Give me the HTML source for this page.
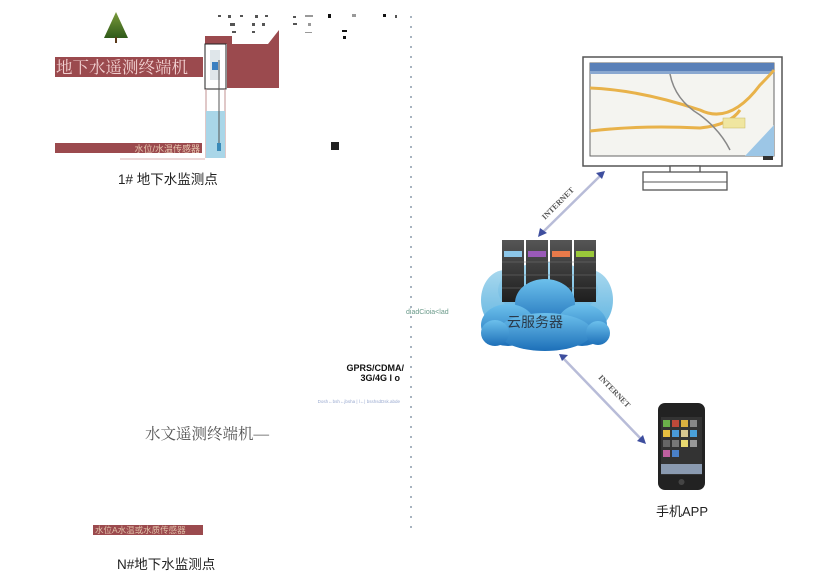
<!DOCTYPE html>
<html><head><meta charset="utf-8"><style>
html,body{margin:0;padding:0;background:#fff;width:829px;height:575px;overflow:hidden}
svg{display:block}
text{font-family:"Liberation Sans","Noto Sans CJK SC",sans-serif}
</style></head><body>
<svg width="829" height="575" viewBox="0 0 829 575" xmlns="http://www.w3.org/2000/svg">
<defs>
<linearGradient id="tree" x1="0" y1="0" x2="0" y2="1"><stop offset="0" stop-color="#7a9a3a"/><stop offset="1" stop-color="#2f5a1a"/></linearGradient>
<linearGradient id="cloudB" x1="0" y1="0" x2="0" y2="1"><stop offset="0" stop-color="#a8d8ee"/><stop offset="1" stop-color="#5fb3e0"/></linearGradient>
<linearGradient id="cloudF" x1="0" y1="0" x2="0" y2="1"><stop offset="0" stop-color="#6cc0ec"/><stop offset="1" stop-color="#1d6fb8"/></linearGradient>
<linearGradient id="rack" x1="0" y1="0" x2="0" y2="1"><stop offset="0" stop-color="#555"/><stop offset="1" stop-color="#1e1e1e"/></linearGradient>
</defs>

<polygon points="116,12 104,38 128,38" fill="url(#tree)"/>
<rect x="115" y="37" width="2" height="6" fill="#5a3a1a"/>

<polygon points="227,44 268,44 279,30 279,88 227,88" fill="#9b4a4e"/>
<rect x="205" y="36" width="27" height="8" fill="#9b4a4e"/>
<rect x="205" y="44" width="21" height="45" fill="#fff" stroke="#222" stroke-width="1"/>
<rect x="210" y="50" width="10" height="30" fill="#dfe6ea"/>
<rect x="212" y="62" width="6" height="8" fill="#3a7fc0"/>
<line x1="206" y1="89" x2="206" y2="158" stroke="#c09090" stroke-width="1"/>
<line x1="225" y1="89" x2="225" y2="158" stroke="#c09090" stroke-width="1"/>
<rect x="206" y="111" width="19" height="47" fill="#a9d6e8"/>
<line x1="219" y1="60" x2="219" y2="148" stroke="#555" stroke-width="1"/>
<rect x="217" y="143" width="4" height="8" fill="#3a8ab8"/>

<rect x="55" y="57" width="148" height="20" fill="#9b4a4e"/>
<text x="56" y="73" font-size="16.5" fill="#f1d0d0" style="font-family:'Liberation Serif','Noto Serif CJK SC',serif">地下水遥测终端机</text>
<rect x="55" y="143" width="147" height="10" fill="#9b4a4e"/>
<text x="200" y="152" font-size="9" fill="#e8c8b0" text-anchor="end">水位/水温传感器</text>
<line x1="120" y1="159" x2="205" y2="159" stroke="#d8b0b0" stroke-width="1"/>
<text x="118" y="184" font-size="13.5" fill="#222">1# 地下水监测点</text>

<g fill="#555">
<rect x="218" y="15" width="3" height="2"/><rect x="228" y="15" width="3" height="3"/><rect x="240" y="15" width="3" height="2"/><rect x="255" y="15" width="3" height="3"/><rect x="265" y="15" width="3" height="2"/><rect x="293" y="16" width="3" height="2"/><rect x="305" y="15" width="8" height="2" fill="#999"/><rect x="328" y="14" width="3" height="4" fill="#111"/><rect x="352" y="14" width="4" height="3" fill="#999"/><rect x="383" y="14" width="3" height="3" fill="#111"/><rect x="395" y="15" width="2" height="3"/>
<rect x="230" y="23" width="5" height="3"/><rect x="252" y="23" width="3" height="3"/><rect x="262" y="23" width="3" height="3"/><rect x="293" y="23" width="4" height="2"/><rect x="308" y="23" width="3" height="3" fill="#999"/><rect x="342" y="30" width="5" height="2" fill="#111"/><rect x="343" y="36" width="3" height="3" fill="#111"/>
<rect x="232" y="31" width="4" height="2"/><rect x="252" y="31" width="3" height="2"/><rect x="305" y="32" width="7" height="1" fill="#999"/>
</g>
<rect x="331" y="142" width="8" height="8" fill="#222"/>

<line x1="411" y1="16" x2="411" y2="528" stroke="#8a9aaa" stroke-width="1.5" stroke-dasharray="2,8"/>
<text x="406" y="314" font-size="7" fill="#6a9a8a">diadCioia&lt;lad</text>
<text x="404" y="371" font-size="9" font-weight="bold" fill="#111" text-anchor="end">GPRS/CDMA/</text>
<text x="400" y="381" font-size="9" font-weight="bold" fill="#111" text-anchor="end">3G/4G l o</text>
<text x="400" y="403" font-size="4.5" fill="#9aaad0" text-anchor="end">Dosh←bsh←jbsha | l←| bsshsdDsk.abde</text>

<text x="145" y="439" font-size="15.5" fill="#555" style="font-family:'Liberation Serif','Noto Serif CJK SC',serif">水文遥测终端机—</text>
<rect x="93" y="525" width="110" height="10" fill="#9b4a4e"/>
<text x="95" y="533" font-size="8.5" fill="#e0c0a8">水位A水温或水质传感器</text>
<text x="117" y="569" font-size="13.5" fill="#222">N#地下水监测点</text>

<rect x="583" y="57" width="199" height="109" fill="#fff" stroke="#555" stroke-width="1.5"/>
<rect x="590" y="63" width="184" height="93" fill="#f4f4f0" stroke="#666" stroke-width="1"/>
<rect x="590" y="63" width="184" height="8" fill="#5a80b8"/>
<rect x="590" y="71" width="184" height="3" fill="#8aa8d0"/>
<path d="M590,88 Q640,90 700,110 Q730,125 760,85 Q770,75 774,70" stroke="#e8b24a" stroke-width="3" fill="none"/>
<path d="M590,131 Q640,125 700,128 Q730,125 740,110" stroke="#e8b24a" stroke-width="3" fill="none"/>
<path d="M670,74 Q675,100 700,115 Q720,130 730,150" stroke="#888" stroke-width="1.5" fill="none"/>
<path d="M774,125 L774,156 L745,156 Q760,140 774,125Z" fill="#9cc6e6"/>
<rect x="723" y="118" width="22" height="10" fill="#f0e6a0" stroke="#c8b860" stroke-width=".5"/>
<rect x="763" y="156" width="10" height="4" fill="#333"/>
<rect x="670" y="166" width="30" height="16" fill="#fff" stroke="#555" stroke-width="1.3"/>
<rect x="643" y="172" width="84" height="18" fill="#fff" stroke="#555" stroke-width="1.3"/>
<line x1="643" y1="182" x2="727" y2="182" stroke="#555" stroke-width="1"/>

<g stroke="#b8bcd8" stroke-width="2.5">
<line x1="543" y1="232" x2="600" y2="176"/>
<line x1="563" y1="358" x2="642" y2="440"/>
</g>
<polygon points="538,237 540,228 547,233" fill="#3e4e9e"/>
<polygon points="605,171 596,173 602,179" fill="#3e4e9e"/>
<polygon points="559,354 568,355 562,361" fill="#3e4e9e"/>
<polygon points="646,444 643,435 637,441" fill="#3e4e9e"/>
<text x="0" y="0" font-size="8" font-weight="bold" fill="#555" transform="translate(545,220) rotate(-45)" style="font-family:'Liberation Serif',serif">INTERNET</text>
<text x="0" y="0" font-size="8" font-weight="bold" fill="#555" transform="translate(598,378) rotate(46)" style="font-family:'Liberation Serif',serif">INTERNET</text>

<g fill="url(#cloudB)">
<ellipse cx="505" cy="300" rx="24" ry="30"/>
<ellipse cx="590" cy="300" rx="23" ry="30"/>
<ellipse cx="548" cy="290" rx="50" ry="28"/>
</g>
<g>
<rect x="502" y="240" width="22" height="62" fill="url(#rack)"/>
<rect x="526" y="240" width="22" height="62" fill="url(#rack)"/>
<rect x="550" y="240" width="22" height="62" fill="url(#rack)"/>
<rect x="574" y="240" width="22" height="62" fill="url(#rack)"/>
<rect x="504" y="251" width="18" height="6" fill="#8cc6e8"/>
<rect x="528" y="251" width="18" height="6" fill="#9a5ab8"/>
<rect x="552" y="251" width="18" height="6" fill="#e87a4a"/>
<rect x="576" y="251" width="18" height="6" fill="#9ac83a"/>
<g stroke="#777" stroke-width=".6"><line x1="502" y1="262" x2="596" y2="262"/><line x1="502" y1="275" x2="596" y2="275"/><line x1="502" y1="288" x2="596" y2="288"/></g>
</g>
<g fill="url(#cloudF)">
<ellipse cx="545" cy="303" rx="30" ry="24"/>
<ellipse cx="508" cy="325" rx="27" ry="21"/>
<ellipse cx="582" cy="325" rx="25" ry="21"/>
<ellipse cx="545" cy="332" rx="47" ry="19"/>
<ellipse cx="495" cy="333" rx="14" ry="13"/>
<ellipse cx="598" cy="333" rx="12" ry="12"/>
</g>
<text x="535" y="327" font-size="14" fill="#2a3a4a" text-anchor="middle">云服务器</text>

<rect x="658" y="403" width="47" height="87" rx="7" fill="#222"/>
<rect x="661" y="417" width="41" height="58" fill="#333"/>
<g>
<rect x="663" y="420" width="7" height="7" fill="#6ab04a"/><rect x="672" y="420" width="7" height="7" fill="#c04a3a"/><rect x="681" y="420" width="7" height="7" fill="#d8b040"/><rect x="690" y="420" width="7" height="7" fill="#888"/>
<rect x="663" y="430" width="7" height="7" fill="#e8c040"/><rect x="672" y="430" width="7" height="7" fill="#4a9ad8"/><rect x="681" y="430" width="7" height="7" fill="#d8c890"/><rect x="690" y="430" width="7" height="7" fill="#4aa0d8"/>
<rect x="663" y="440" width="7" height="7" fill="#666"/><rect x="672" y="440" width="7" height="7" fill="#777"/><rect x="681" y="440" width="7" height="7" fill="#e8d870"/><rect x="690" y="440" width="7" height="7" fill="#999"/>
<rect x="663" y="450" width="7" height="7" fill="#c060a0"/><rect x="672" y="450" width="7" height="7" fill="#4a80c8"/>
<rect x="661" y="464" width="41" height="10" fill="#8a9ab0"/>
</g>
<circle cx="681.5" cy="482" r="3" fill="#444"/>
<text x="682" y="516" font-size="13" fill="#222" text-anchor="middle">手机APP</text>
</svg>
</body></html>
